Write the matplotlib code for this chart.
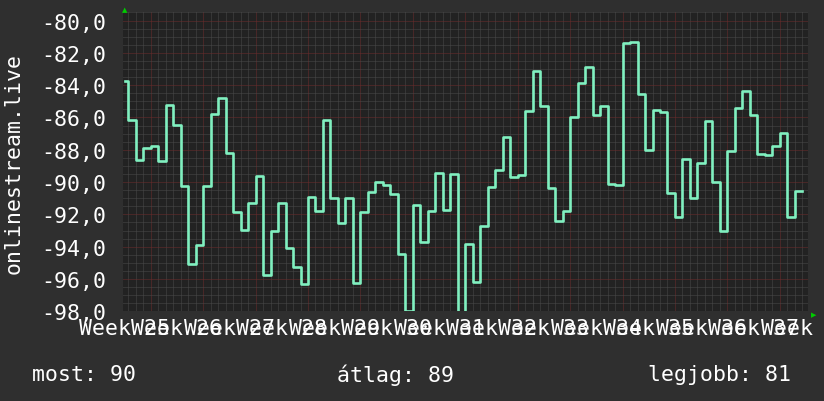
import matplotlib
matplotlib.use("Agg")
import matplotlib.pyplot as plt
from matplotlib.ticker import MultipleLocator, FuncFormatter
from matplotlib.transforms import blended_transform_factory

# daily values (dBm-like), one step per day; first one is a partial day
values = [
    -83.72, -86.13, -88.61, -87.89, -87.74, -88.69, -85.23, -86.46, -90.22, -95.07,
    -93.87, -90.22, -85.76, -84.79, -88.20, -91.83, -92.95, -91.29, -89.60, -95.75,
    -93.03, -91.29, -94.08, -95.24, -96.31, -90.92, -91.77, -86.13, -90.96, -92.51,
    -90.96, -96.25, -91.85, -90.59, -89.99, -90.18, -90.72, -94.43, -97.96, -91.40,
    -93.69, -91.79, -89.44, -91.71, -89.48, -98.30, -93.81, -96.16, -92.70, -90.28,
    -89.23, -87.19, -89.67, -89.56, -85.60, -83.12, -85.29, -90.35, -92.41, -91.79,
    -85.97, -83.86, -82.87, -85.84, -85.29, -90.10, -90.16, -81.39, -81.30, -84.52,
    -87.99, -85.51, -85.64, -90.66, -92.16, -88.55, -90.96, -88.80, -86.20, -89.99,
    -93.01, -88.07, -85.39, -84.34, -85.84, -88.24, -88.30, -87.74, -86.96, -92.16,
    -90.55,
]
start_day = -3.37   # data begins part-way through a day
week_labels = ["Week %d" % w for w in range(25, 39)]
summary = ["most: 90", "átlag: 89", "legjobb: 81"]
ylabel = "onlinestream.live"

BG = "#2f2f2f"
PLOT_BG = "#222222"
LINE = "#80f0c0"
TXT = "white"
MONO = "DejaVu Sans Mono"
FS = 15.5

# step edges: partial first day, then whole days
x = [start_day] + list(range(-3, -3 + len(values)))
y = values + [values[-1]]

fig = plt.figure(figsize=(8.24, 4.02), dpi=100, facecolor=BG)
W, H = 824, 402
left, right, top, bottom = 123.3, 808, 13, 312.3
ax = fig.add_axes([left / W, 1 - bottom / H, (right - left) / W, (bottom - top) / H])
ax.set_facecolor(PLOT_BG)

ax.plot(x, y, drawstyle="steps-post", color=LINE, linewidth=1.9, clip_on=True, zorder=3)

ax.set_xlim(-3.66, 87.76)
ax.set_ylim(-98.0, -79.47)

# grid: grey dotted minor, red dotted major
ax.xaxis.set_major_locator(MultipleLocator(7))
ax.xaxis.set_minor_locator(MultipleLocator(1))
ax.yaxis.set_major_locator(MultipleLocator(2))
ax.yaxis.set_minor_locator(MultipleLocator(0.5))
ax.grid(which="minor", color="#4a4a4a", linestyle=(0, (1, 1)), linewidth=0.72)
ax.grid(which="major", color="#6e2c2c", linestyle=(0, (1, 1)), linewidth=0.72)
ax.set_axisbelow(True)

ax.yaxis.set_major_formatter(FuncFormatter(lambda v, p: ("%.1f" % v).replace(".", ",")))
ax.tick_params(axis="y", which="both", length=0, labelsize=FS, labelcolor=TXT, pad=12)
ax.tick_params(axis="x", which="both", length=0, labelbottom=False)
for lab in ax.get_yticklabels():
    lab.set_fontfamily(MONO)
for s in ax.spines.values():
    s.set_visible(False)

# week labels, centred mid-week, just under the plot
tr = blended_transform_factory(ax.transData, fig.transFigure)
for i, lab in enumerate(week_labels):
    ax.text(-3.5 + 7 * i, 1 - 329 / H, lab, ha="center", va="center", color=TXT,
            fontsize=FS, family=MONO, transform=tr, clip_on=False)

# axis arrows
fig.text(125 / W, 1 - 10 / H, "▲", color="#00cc00", fontsize=5, ha="center", va="center")
fig.text(814 / W, 1 - 315 / H, "▶", color="#00cc00", fontsize=5, ha="center", va="center")

fig.text(14 / W, 1 - 164 / H, ylabel, rotation=90, color=TXT, fontsize=FS,
         family=MONO, ha="center", va="center")

fig.text(32 / W, 1 - 375 / H, summary[0], color=TXT, fontsize=FS, family=MONO, va="center")
fig.text(337 / W, 1 - 375 / H, summary[1], color=TXT, fontsize=FS, family=MONO, va="center")
fig.text(648 / W, 1 - 375 / H, summary[2], color=TXT, fontsize=FS, family=MONO, va="center")

fig.savefig("out.png", dpi=100, facecolor=BG)
